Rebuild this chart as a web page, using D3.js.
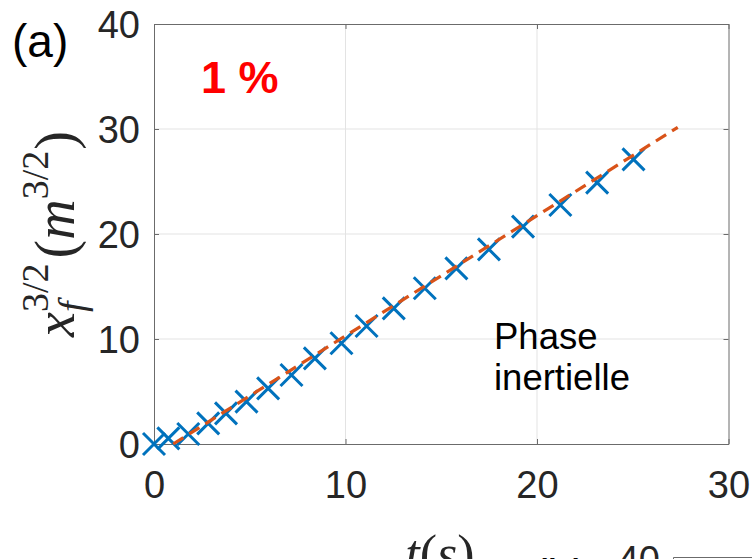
<!DOCTYPE html>
<html><head><meta charset="utf-8">
<script src="https://cdn.jsdelivr.net/npm/d3@7"></script>
<style>body{margin:0;background:#fff;overflow:hidden}svg{display:block}</style>
</head><body>
<script>
// ---- data ----
const tData = [0, 0.75, 1.79, 2.83, 3.76, 4.83, 5.96, 7.18, 8.40, 9.79, 11.1, 12.52, 14.14, 15.79, 17.49, 19.27, 21.22, 23.14, 25.04];
const xfData = [0, 0.54, 0.95, 1.97, 2.92, 4.03, 5.30, 6.57, 8.16, 9.59, 11.24, 12.92, 14.83, 16.73, 18.54, 20.70, 22.76, 24.89, 27.11];
const fitT = [1.0, 27.35];
const fitY = [0, 30.16];
const xTicks = [0, 10, 20, 30];
const yTicks = [0, 10, 20, 30, 40];
const panelLabel = "(a)";
const percentLabel = "1 %";
const phaseLines = ["Phase", "inertielle"];

const W = 752, H = 559;
const svg = d3.select("body").append("svg").attr("width", W).attr("height", H);
const L = 154, R = 728.5, T = 24, B = 444;
const x = d3.scaleLinear().domain([0, 30]).range([L, R]);
const y = d3.scaleLinear().domain([0, 40]).range([B, T]);
const axisCol = "#262626", gridCol = "#e3e3e3";
const sans = "'Liberation Sans', Arial, sans-serif";
const serif = "'Liberation Serif', 'Times New Roman', serif";

// grid
const gg = svg.append("g");
xTicks.slice(1, -1).forEach(v => gg.append("line").attr("x1", x(v)).attr("x2", x(v)).attr("y1", T).attr("y2", B).attr("stroke", gridCol));
yTicks.slice(1, -1).forEach(v => gg.append("line").attr("x1", L).attr("x2", R).attr("y1", y(v)).attr("y2", y(v)).attr("stroke", gridCol));

// axes
const xa = svg.append("g").attr("transform", `translate(0,${B})`)
  .call(d3.axisBottom(x).tickValues(xTicks).tickSizeInner(-5).tickSizeOuter(0).tickPadding(27));
const ya = svg.append("g").attr("transform", `translate(${L},0)`)
  .call(d3.axisLeft(y).tickValues(yTicks).tickSizeInner(-5).tickSizeOuter(0).tickPadding(14));
const xa2 = svg.append("g").attr("transform", `translate(0,${T})`)
  .call(d3.axisTop(x).tickValues(xTicks).tickSizeInner(-5).tickSizeOuter(0).tickFormat(""));
const ya2 = svg.append("g").attr("transform", `translate(${R},0)`)
  .call(d3.axisRight(y).tickValues(yTicks).tickSizeInner(-5).tickSizeOuter(0).tickFormat(""));
[xa, ya, xa2, ya2].forEach(a => {
  a.selectAll("path").attr("stroke", "#6b6b6b");
  a.selectAll("line").attr("stroke", "#6b6b6b");
  a.selectAll("text").attr("fill", axisCol).style("font-family", sans).style("font-size", "38px");
});
xa.selectAll("text").attr("dy", "0.71em");
ya.selectAll("text").attr("dy", "0.36em");

// markers
const s = 11;
svg.append("g").selectAll("path").data(tData.map((t, i) => [t, xfData[i]])).join("path")
  .attr("d", d => `M${x(d[0]) - s},${y(d[1]) - s}L${x(d[0]) + s},${y(d[1]) + s}M${x(d[0]) - s},${y(d[1]) + s}L${x(d[0]) + s},${y(d[1]) - s}`)
  .attr("stroke", "#0072BD").attr("stroke-width", 3).attr("fill", "none");

// fit line
svg.append("path").datum(fitT.map((t, i) => [t, fitY[i]]))
  .attr("d", d3.line().x(d => x(d[0])).y(d => y(d[1])))
  .attr("stroke", "#D95319").attr("stroke-width", 3.2).attr("fill", "none")
  .attr("stroke-dasharray", "12,7");

// texts
svg.append("text").attr("x", 12).attr("y", 57).text(panelLabel)
  .style("font-family", sans).style("font-size", "46px").attr("fill", "#000");
svg.append("text").attr("x", 201).attr("y", 93).text(percentLabel)
  .style("font-family", sans).style("font-size", "45px").style("font-weight", "bold").attr("fill", "#ff0000");
phaseLines.forEach((l, i) => svg.append("text").attr("x", 494).attr("y", 349 + i * 41).text(l)
  .style("font-family", sans).style("font-size", "36.5px").attr("fill", "#000"));

// math label helper
function mathLabel(parent, pieces, cx, cy, rot) {
  const g = parent.append("g").attr("transform", `translate(${cx},${cy}) rotate(${rot})`);
  let u = 0, stackStart = null, stackW = 0;
  const els = [];
  pieces.forEach(p => {
    const t = g.append("text").text(p.t).style("font-family", serif)
      .style("font-size", p.size + "px").style("font-style", p.it ? "italic" : "normal").attr("fill", axisCol);
    const w = t.node().getComputedTextLength();
    if (p.stack) { t.attr("x", stackStart); stackW = Math.max(stackW, w); u = stackStart + stackW; }
    else { stackStart = u; stackW = w; t.attr("x", u); u += w; }
    if (p.gap) u += p.gap;
    t.attr("y", p.dy || 0);
    els.push(t);
  });
  els.forEach(t => t.attr("x", +t.attr("x") - u / 2));
  return g;
}
mathLabel(svg, [
  {t: "x", it: true, size: 56},
  {t: "f", it: true, size: 38, dy: 11},
  {t: "3/2", size: 38, dy: -26, stack: true, gap: 5},
  {t: "(", size: 56},
  {t: "m", it: true, size: 56},
  {t: "3/2", size: 38, dy: -26, gap: 1},
  {t: ")", size: 56}
], 74, 234, -90);
mathLabel(svg, [
  {t: "t", it: true, size: 52},
  {t: "(", size: 52},
  {t: "s", it: true, size: 52},
  {t: ")", size: 52}
], 440, 571, 0);

// neighbouring panel (b), mostly off-canvas
svg.append("text").attr("x", 532).attr("y", 592).text("(b)")
  .style("font-family", sans).style("font-size", "46px").attr("fill", "#000");
svg.append("text").attr("x", 660).attr("y", 559).attr("dy", "0.36em").attr("text-anchor", "end").text("40")
  .style("font-family", sans).style("font-size", "38px").attr("fill", axisCol);
svg.append("path").attr("d", `M${673.5},${H + 5}V${557.5}H${W + 5}`).attr("stroke", "#6b6b6b").attr("fill", "none");
</script>
</body></html>
